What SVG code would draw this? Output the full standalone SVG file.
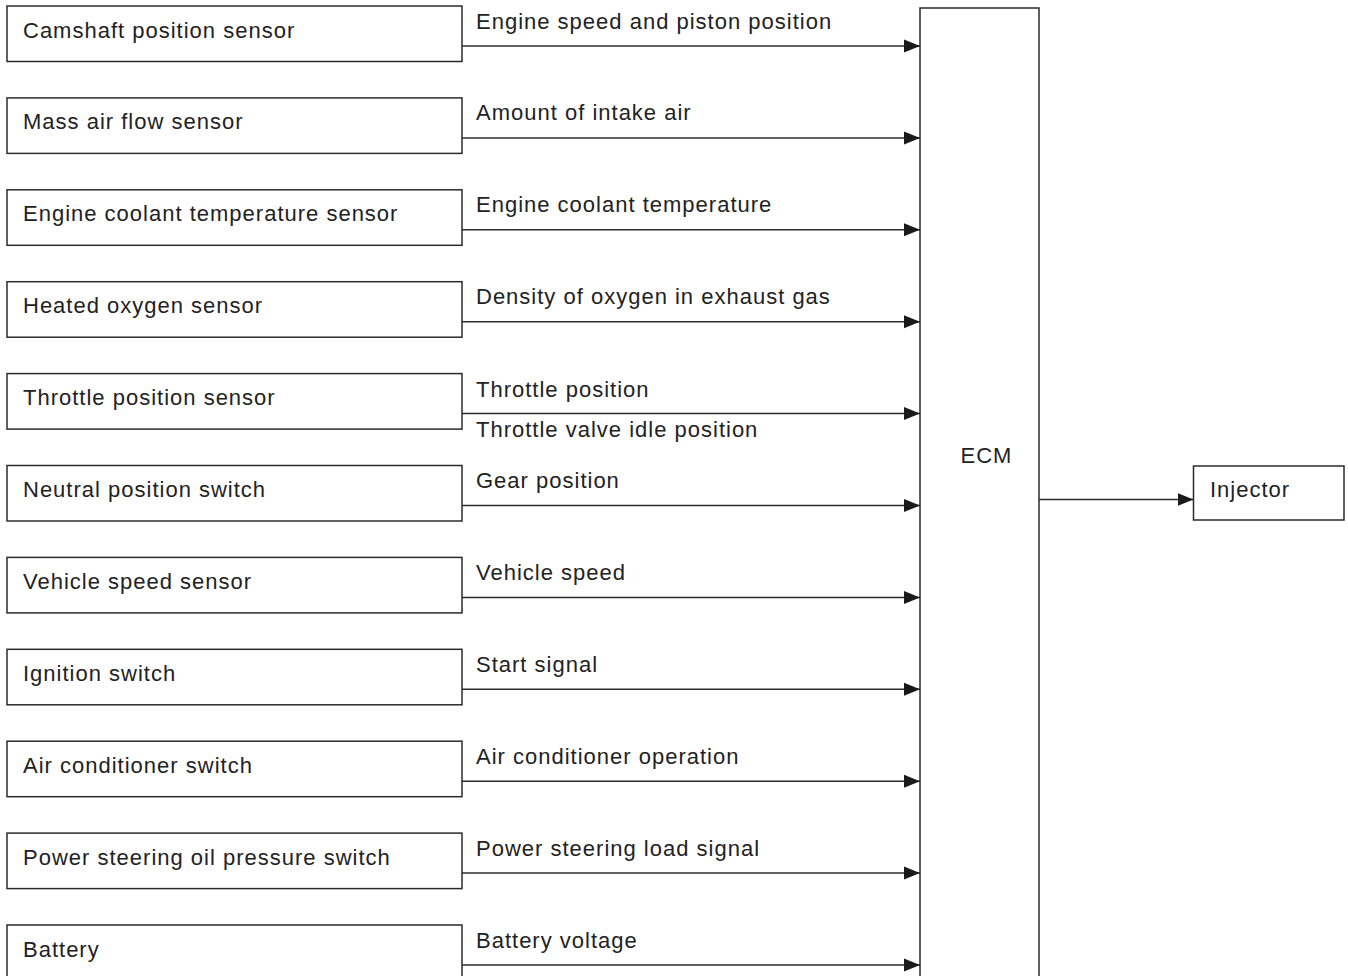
<svg xmlns="http://www.w3.org/2000/svg" width="1348" height="976" viewBox="0 0 1348 976">
<style>
.box{fill:#fff;stroke:#2b2b2b;stroke-width:1.5}
.t{font-family:"Liberation Sans",Arial,sans-serif;font-size:22px;letter-spacing:1px;fill:#222}
.c{stroke:#2b2b2b;stroke-width:1.5;fill:none;marker-end:url(#ah)}
</style>
<defs>
<marker id="ah" markerUnits="userSpaceOnUse" markerWidth="16" markerHeight="14" refX="16" refY="6.5" orient="auto" viewBox="0 0 16 13">
<path d="M0,0 L16,6.5 L0,13 z" fill="#1a1a1a"/>
</marker>
</defs>
<rect width="1348" height="976" fill="#fff"/>
<g id="n-camshaft"><rect class="box" x="7" y="6" width="455" height="55.5"/><text class="t" x="23" y="37.5">Camshaft position sensor</text></g>
<g id="n-maf"><rect class="box" x="7" y="97.9" width="455" height="55.5"/><text class="t" x="23" y="129.4">Mass air flow sensor</text></g>
<g id="n-ect"><rect class="box" x="7" y="189.8" width="455" height="55.5"/><text class="t" x="23" y="221.3">Engine coolant temperature sensor</text></g>
<g id="n-ho2"><rect class="box" x="7" y="281.7" width="455" height="55.5"/><text class="t" x="23" y="313.2">Heated oxygen sensor</text></g>
<g id="n-tps"><rect class="box" x="7" y="373.6" width="455" height="55.5"/><text class="t" x="23" y="405.1">Throttle position sensor</text></g>
<g id="n-nps"><rect class="box" x="7" y="465.5" width="455" height="55.5"/><text class="t" x="23" y="497">Neutral position switch</text></g>
<g id="n-vss"><rect class="box" x="7" y="557.4" width="455" height="55.5"/><text class="t" x="23" y="588.9">Vehicle speed sensor</text></g>
<g id="n-ign"><rect class="box" x="7" y="649.3" width="455" height="55.5"/><text class="t" x="23" y="680.8">Ignition switch</text></g>
<g id="n-ac"><rect class="box" x="7" y="741.2" width="455" height="55.5"/><text class="t" x="23" y="772.7">Air conditioner switch</text></g>
<g id="n-ps"><rect class="box" x="7" y="833.1" width="455" height="55.5"/><text class="t" x="23" y="864.6">Power steering oil pressure switch</text></g>
<g id="n-bat"><rect class="box" x="7" y="925" width="455" height="55.5"/><text class="t" x="23" y="956.5">Battery</text></g>
<g id="n-ecm"><rect class="box" x="920" y="8" width="119" height="980"/><text class="t" x="986.5" y="463" text-anchor="middle">ECM</text></g>
<g id="n-inj"><rect class="box" x="1193.5" y="466" width="150.5" height="54"/><text class="t" x="1210" y="497">Injector</text></g>
<g id="connectors">
<line class="c" x1="462" y1="46" x2="920" y2="46"/>
<line class="c" x1="462" y1="137.9" x2="920" y2="137.9"/>
<line class="c" x1="462" y1="229.8" x2="920" y2="229.8"/>
<line class="c" x1="462" y1="321.7" x2="920" y2="321.7"/>
<line class="c" x1="462" y1="413.6" x2="920" y2="413.6"/>
<line class="c" x1="462" y1="505.5" x2="920" y2="505.5"/>
<line class="c" x1="462" y1="597.4" x2="920" y2="597.4"/>
<line class="c" x1="462" y1="689.3" x2="920" y2="689.3"/>
<line class="c" x1="462" y1="781.2" x2="920" y2="781.2"/>
<line class="c" x1="462" y1="873.1" x2="920" y2="873.1"/>
<line class="c" x1="462" y1="965" x2="920" y2="965"/>
<line class="c" x1="1039" y1="499.5" x2="1193.5" y2="499.5"/>
<text class="t" x="476" y="28.5">Engine speed and piston position</text>
<text class="t" x="476" y="120.4">Amount of intake air</text>
<text class="t" x="476" y="212.3">Engine coolant temperature</text>
<text class="t" x="476" y="304.2">Density of oxygen in exhaust gas</text>
<text class="t" x="476" y="396.6">Throttle position</text>
<text class="t" x="476" y="436.5">Throttle valve idle position</text>
<text class="t" x="476" y="488">Gear position</text>
<text class="t" x="476" y="579.9">Vehicle speed</text>
<text class="t" x="476" y="671.8">Start signal</text>
<text class="t" x="476" y="763.7">Air conditioner operation</text>
<text class="t" x="476" y="855.6">Power steering load signal</text>
<text class="t" x="476" y="947.5">Battery voltage</text>
</g>
</svg>
